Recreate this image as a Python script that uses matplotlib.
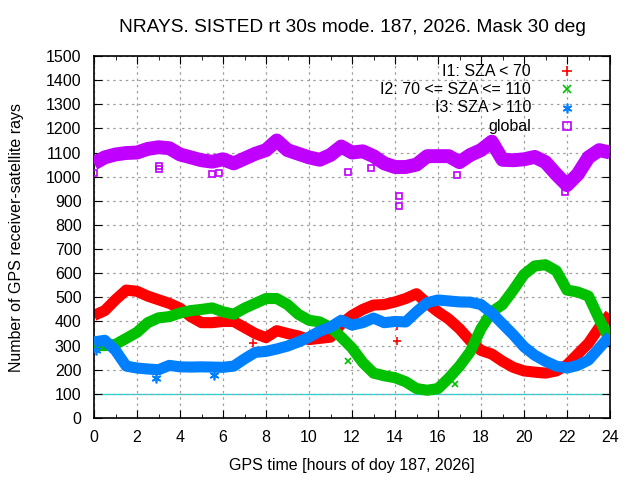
import numpy as np
import matplotlib
matplotlib.use("Agg")
import matplotlib.pyplot as plt
from matplotlib.ticker import MultipleLocator

plt.rcParams['font.family'] = ['Liberation Sans', 'DejaVu Sans']
plt.rcParams['font.size'] = 11.5

# hours of day, one reading every half hour
hours = np.arange(0, 24.01, 0.5)

# I1: SZA < 70
i1 = [425, 445, 490, 530, 525, 505, 490, 475, 455, 420, 395, 395, 400, 400, 375, 350, 333, 362,
      350, 340, 325, 330, 335, 390, 425, 450, 468, 470, 481, 495, 515, 475, 440, 410, 370, 320,
      280, 265, 235, 210, 195, 190, 186, 195, 220, 265, 310, 375, 430]
# I2: 70 <= SZA <= 110
i2 = [300, 300, 305, 330, 355, 395, 415, 420, 435, 445, 450, 456, 440, 430, 455, 475, 495, 495,
      470, 430, 405, 398, 375, 335, 290, 230, 186, 175, 167, 150, 122, 115, 122, 165, 215, 275,
      370, 440, 470, 530, 595, 630, 635, 610, 530, 522, 505, 410, 320]
# I3: SZA > 110
i3 = [315, 322, 280, 215, 207, 203, 200, 218, 212, 211, 212, 211, 210, 215, 245, 272, 276, 286,
      298, 315, 335, 360, 377, 405, 385, 395, 414, 395, 400, 398, 440, 478, 489, 485, 481, 480,
      470, 435, 390, 345, 295, 260, 235, 215, 207, 218, 240, 290, 340]
# global
glob = [1055, 1080, 1092, 1098, 1100, 1115, 1122, 1118, 1092, 1080, 1068, 1062, 1072, 1055, 1075,
        1095, 1110, 1150, 1110, 1095, 1080, 1070, 1090, 1125, 1100, 1105, 1085, 1055, 1040, 1040,
        1050, 1085, 1085, 1085, 1060, 1090, 1110, 1145, 1070, 1068, 1072, 1082, 1060, 1010, 965,
        1010, 1080, 1110, 1100]

# isolated points off the main bands
i1_out_h = [7.4, 14.1, 14.1]
i1_out_v = [310, 320, 380]
i2_out_h = [0.05, 11.8, 16.8]
i2_out_v = [285, 235, 140]
i3_out_h = [0.1, 2.9, 5.6]
i3_out_v = [280, 165, 180]
gl_out_h = [0.0, 3.0, 3.0, 5.5, 5.8, 11.8, 12.9, 14.2, 14.2, 16.9, 21.9]
gl_out_v = [1015, 1045, 1030, 1010, 1015, 1020, 1035, 920, 880, 1005, 935]

red, green, blue, mag = '#ff0000', '#00c000', '#0080ff', '#c000ff'

fig = plt.figure(figsize=(6.4, 4.8), dpi=100)
ax = fig.add_axes([94 / 640, 62 / 480, 516 / 640, 362 / 480])

ax.axhline(100, color='#00dddd', lw=0.9, zorder=1)

ax.plot(hours, i1, color=red, lw=8, solid_joinstyle='round', solid_capstyle='butt', zorder=2)
ax.plot(i1_out_h, i1_out_v, ls='none', marker='+', ms=6, mew=1.2, color=red, zorder=2)
ax.plot(hours, i2, color=green, lw=8, solid_joinstyle='round', solid_capstyle='butt', zorder=3)
ax.plot(i2_out_h, i2_out_v, ls='none', marker='x', ms=5, mew=1.2, color=green, zorder=3)
ax.plot(hours, i3, color=blue, lw=8, solid_joinstyle='round', solid_capstyle='butt', zorder=4)
ax.plot(i3_out_h, i3_out_v, ls='none', marker=(6, 2, 0), ms=7, mew=1.2, color=blue, zorder=4)
ax.plot(hours, glob, color=mag, lw=10, solid_joinstyle='round', solid_capstyle='butt', zorder=5)
ax.plot(gl_out_h, gl_out_v, ls='none', marker='s', ms=5, mfc='none', mew=1.2, color=mag, zorder=5)

# legend, gnuplot style: text right aligned, symbol on the right
keys = [('I1: SZA < 70', '+', red, 7), ('I2: 70 <= SZA <= 110', 'x', green, 6),
        ('I3: SZA > 110', (6, 2, 0), blue, 7), ('global', 's', mag, 6)]
for k, (txt, mk, col, ms) in enumerate(keys):
    yy = 0.958 - k * 0.0505
    ax.text(0.847, yy, txt, transform=ax.transAxes, ha='right', va='center')
    ax.plot([0.917], [yy], transform=ax.transAxes, marker=mk, ms=ms, mew=1.2, color=col,
            mfc='none', ls='none', clip_on=False, zorder=6)

ax.set_xlim(0, 24)
ax.set_ylim(0, 1500)
ax.xaxis.set_major_locator(MultipleLocator(2))
ax.xaxis.set_minor_locator(MultipleLocator(1))
ax.yaxis.set_major_locator(MultipleLocator(100))
ax.tick_params(which='both', direction='in', top=True, right=True, labelsize=11.5)
ax.tick_params(axis='y', pad=9)
ax.tick_params(axis='x', pad=9)
ax.tick_params(which='major', length=6)
ax.tick_params(which='minor', length=3)
ax.grid(True, which='major', color='#a0a0a0', ls=(0, (2, 3)), lw=0.9)
for s in ax.spines.values():
    s.set_linewidth(1.2)

ax.set_title('NRAYS. SISTED rt 30s mode. 187, 2026. Mask 30 deg', pad=17)
ax.set_xlabel('GPS time [hours of doy 187, 2026]', labelpad=9)
ax.set_ylabel('Number of GPS receiver-satellite rays', labelpad=16)

fig.savefig('out.png', dpi=100)
